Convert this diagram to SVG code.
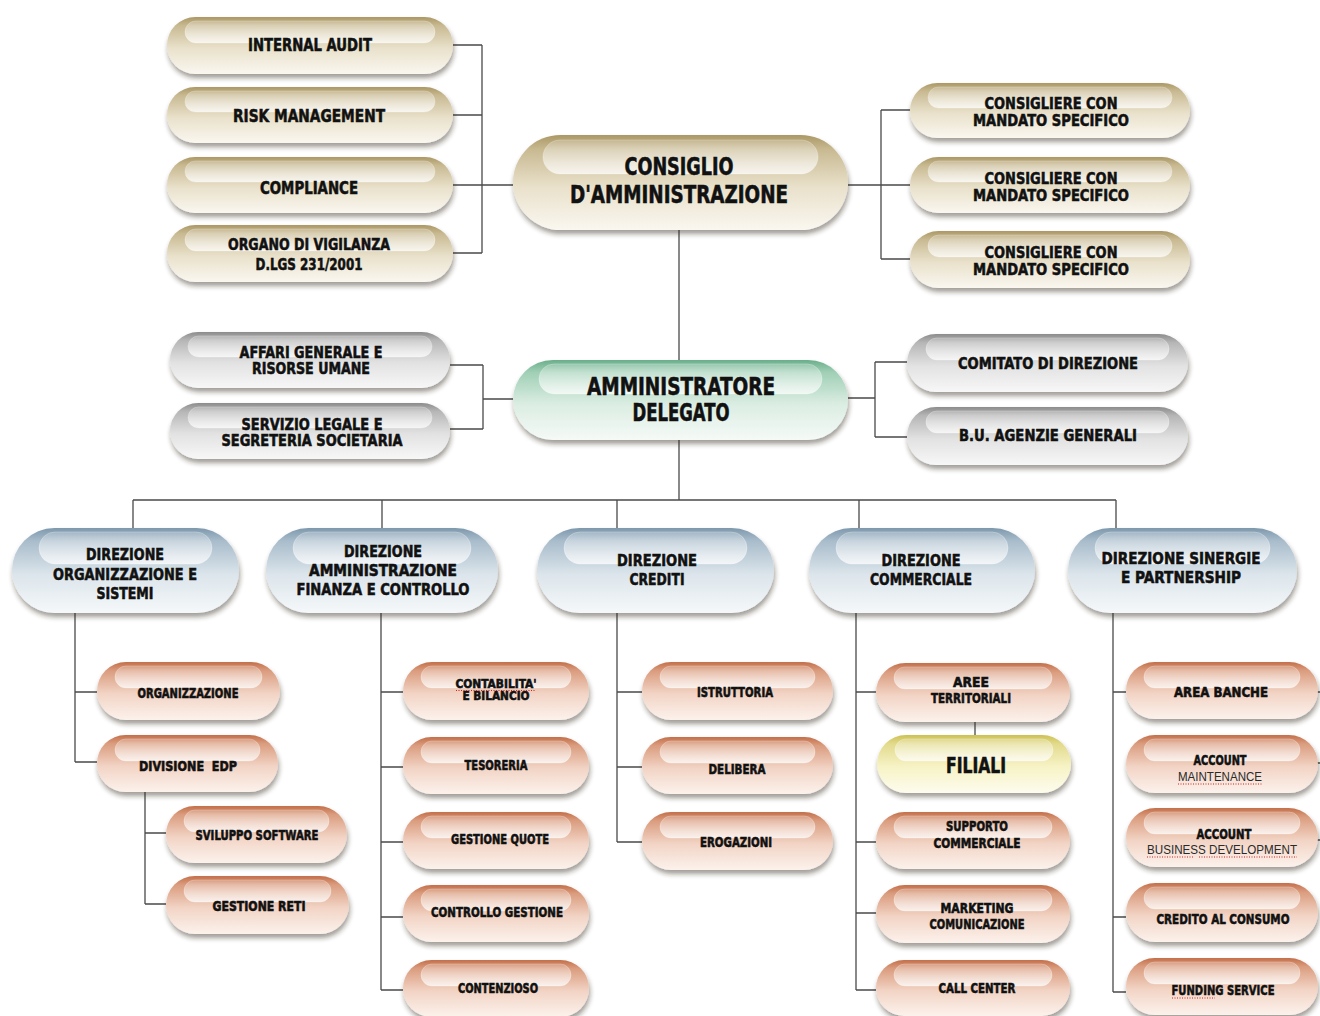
<svg xmlns="http://www.w3.org/2000/svg" width="1320" height="1016" viewBox="0 0 1320 1016">
<defs>
<style>
.t{font-family:"DejaVu Sans Condensed","Liberation Sans Narrow","Liberation Sans",sans-serif;font-weight:700;fill:#111111;stroke:#111111;stroke-width:0.55;text-anchor:middle}
.f18{font-size:18px}.f17{font-size:16.5px}.f16{font-size:16px}.f25{font-size:24px}.f14{font-size:13.5px}.f12{font-size:12px}.f21{font-size:21px}
.thin{font-family:"Liberation Sans","DejaVu Sans",sans-serif;font-weight:400;stroke:none;fill:#2a2a2a;font-size:13.5px}
.ln{stroke:#4a4a4a;stroke-width:1.3;fill:none}
.hl{fill:url(#gHl);stroke:#ffffff;stroke-opacity:0.45;stroke-width:0.6}
.sp{stroke:#d02020;stroke-width:1;stroke-dasharray:1 1.5;fill:none}
</style>
<filter id="sh" x="-10%" y="-20%" width="120%" height="150%">
<feDropShadow dx="1" dy="4" stdDeviation="2.5" flood-color="#2a2015" flood-opacity="0.45"/>
</filter>
<linearGradient id="gHl" x1="0" y1="0" x2="0" y2="1">
<stop offset="0" stop-color="#ffffff" stop-opacity="0.2"/>
<stop offset="1" stop-color="#ffffff" stop-opacity="0.75"/>
</linearGradient>
<linearGradient id="gBeige" x1="0" y1="0" x2="0" y2="1">
<stop offset="0" stop-color="#ab9865"/><stop offset="0.15" stop-color="#c8b991"/><stop offset="0.55" stop-color="#e9e1cb"/><stop offset="1" stop-color="#faf7f0"/>
</linearGradient>
<linearGradient id="gGray" x1="0" y1="0" x2="0" y2="1">
<stop offset="0" stop-color="#8c8c8c"/><stop offset="0.15" stop-color="#b6b6b6"/><stop offset="0.55" stop-color="#e2e2e2"/><stop offset="1" stop-color="#f7f7f7"/>
</linearGradient>
<linearGradient id="gGreen" x1="0" y1="0" x2="0" y2="1">
<stop offset="0" stop-color="#6aae8a"/><stop offset="0.15" stop-color="#9fcfb5"/><stop offset="0.55" stop-color="#dbede2"/><stop offset="1" stop-color="#f5faf7"/>
</linearGradient>
<linearGradient id="gBlue" x1="0" y1="0" x2="0" y2="1">
<stop offset="0" stop-color="#7d98ac"/><stop offset="0.15" stop-color="#a8bccb"/><stop offset="0.55" stop-color="#dce5eb"/><stop offset="1" stop-color="#f5f8fa"/>
</linearGradient>
<linearGradient id="gSal" x1="0" y1="0" x2="0" y2="1">
<stop offset="0" stop-color="#c46f4a"/><stop offset="0.15" stop-color="#da9c7e"/><stop offset="0.55" stop-color="#f2d4c5"/><stop offset="1" stop-color="#fcf2ec"/>
</linearGradient>
<linearGradient id="gYel" x1="0" y1="0" x2="0" y2="1">
<stop offset="0" stop-color="#cdc153"/><stop offset="0.15" stop-color="#e2da8c"/><stop offset="0.55" stop-color="#f7f3c6"/><stop offset="1" stop-color="#fdfcee"/>
</linearGradient>
</defs>
<rect width="1320" height="1016" fill="#ffffff"/>

<g id="connectors">
<path class="ln" d="M453 45H482 M453 115H482 M453 185H513 M453 253H482 M482 45V253"/>
<path class="ln" d="M848 185H910 M881 110V259 M881 110H910 M881 259H910"/>
<path class="ln" d="M679 230V360"/>
<path class="ln" d="M450 365H483 M450 429H483 M483 365V429 M483 399H513"/>
<path class="ln" d="M848 398H875 M875 362V437 M875 362H907 M875 437H907"/>
<path class="ln" d="M679 440V500 M133 500H1116 M133 500V528 M382 500V528 M617 500V528 M859 500V528 M1116 500V528"/>
<path class="ln" d="M75 613V762 M75 692H97 M75 762H97"/>
<path class="ln" d="M145 792V904 M145 833H166 M145 904H166"/>
<path class="ln" d="M381 613V990 M381 692H403 M381 767H403 M381 842H403 M381 917H403 M381 990H403"/>
<path class="ln" d="M617 613V842 M617 692H642 M617 767H642 M617 842H642"/>
<path class="ln" d="M856 613V990 M856 692H876 M856 842H876 M856 913H876 M856 990H876"/>
<path class="ln" d="M975 722V735"/>
<path class="ln" d="M1113 613V992 M1113 692H1126 M1113 917H1126 M1113 992H1126"/>
<path class="ln" d="M1316 692H1320 M1316 763H1320 M1316 840H1320"/>
</g>

<g id="n-internal-audit"><rect x="167" y="17" width="286" height="57" rx="28.5" fill="url(#gBeige)" filter="url(#sh)"/><rect class="hl" x="185" y="21" width="250" height="22" rx="11"/><text class="t f18" x="310" y="51" textLength="124" lengthAdjust="spacingAndGlyphs">INTERNAL AUDIT</text></g>
<g id="n-risk-management"><rect x="167" y="87" width="286" height="56" rx="28" fill="url(#gBeige)" filter="url(#sh)"/><rect class="hl" x="185" y="91" width="250" height="21" rx="10.5"/><text class="t f18" x="309" y="122" textLength="152" lengthAdjust="spacingAndGlyphs">RISK MANAGEMENT</text></g>
<g id="n-compliance"><rect x="167" y="157" width="286" height="56" rx="28" fill="url(#gBeige)" filter="url(#sh)"/><rect class="hl" x="185" y="161" width="250" height="21" rx="10.5"/><text class="t f18" x="309" y="194" textLength="98" lengthAdjust="spacingAndGlyphs">COMPLIANCE</text></g>
<g id="n-organo"><rect x="167" y="225" width="286" height="57" rx="28.5" fill="url(#gBeige)" filter="url(#sh)"/><rect class="hl" x="185" y="229" width="250" height="22" rx="11"/><text class="t f17" x="309" y="250" textLength="162" lengthAdjust="spacingAndGlyphs">ORGANO DI VIGILANZA</text><text class="t f17" x="309" y="270" textLength="107" lengthAdjust="spacingAndGlyphs">D.LGS 231/2001</text></g>

<g id="n-consiglio"><rect x="513" y="135" width="335" height="95" rx="47.5" fill="url(#gBeige)" filter="url(#sh)"/><rect class="hl" x="543" y="140" width="275" height="34" rx="17"/><text class="t f25" x="679" y="175" textLength="109" lengthAdjust="spacingAndGlyphs">CONSIGLIO</text><text class="t f25" x="679" y="203" textLength="218" lengthAdjust="spacingAndGlyphs">D'AMMINISTRAZIONE</text></g>

<g id="n-consigliere-1"><rect x="910" y="83" width="280" height="55" rx="27.5" fill="url(#gBeige)" filter="url(#sh)"/><rect class="hl" x="928" y="87" width="244" height="21" rx="10.5"/><text class="t f17" x="1051" y="109" textLength="133" lengthAdjust="spacingAndGlyphs">CONSIGLIERE CON</text><text class="t f17" x="1051" y="126" textLength="156" lengthAdjust="spacingAndGlyphs">MANDATO SPECIFICO</text></g>
<g id="n-consigliere-2"><rect x="910" y="157" width="280" height="56" rx="28" fill="url(#gBeige)" filter="url(#sh)"/><rect class="hl" x="928" y="161" width="244" height="21" rx="10.5"/><text class="t f17" x="1051" y="184" textLength="133" lengthAdjust="spacingAndGlyphs">CONSIGLIERE CON</text><text class="t f17" x="1051" y="201" textLength="156" lengthAdjust="spacingAndGlyphs">MANDATO SPECIFICO</text></g>
<g id="n-consigliere-3"><rect x="910" y="231" width="280" height="57" rx="28.5" fill="url(#gBeige)" filter="url(#sh)"/><rect class="hl" x="928" y="235" width="244" height="22" rx="11"/><text class="t f17" x="1051" y="258" textLength="133" lengthAdjust="spacingAndGlyphs">CONSIGLIERE CON</text><text class="t f17" x="1051" y="275" textLength="156" lengthAdjust="spacingAndGlyphs">MANDATO SPECIFICO</text></g>

<g id="n-amministratore"><rect x="513" y="360" width="335" height="80" rx="40" fill="url(#gGreen)" filter="url(#sh)"/><rect class="hl" x="539" y="364" width="283" height="30" rx="15"/><text class="t f25" x="681" y="395" textLength="188" lengthAdjust="spacingAndGlyphs">AMMINISTRATORE</text><text class="t f25" x="681" y="421" textLength="97" lengthAdjust="spacingAndGlyphs">DELEGATO</text></g>

<g id="n-affari"><rect x="170" y="332" width="280" height="56" rx="28" fill="url(#gGray)" filter="url(#sh)"/><rect class="hl" x="188" y="336" width="244" height="21" rx="10.5"/><text class="t f16" x="311" y="358" textLength="143" lengthAdjust="spacingAndGlyphs">AFFARI GENERALE E</text><text class="t f16" x="311" y="374" textLength="118" lengthAdjust="spacingAndGlyphs">RISORSE UMANE</text></g>
<g id="n-servizio-legale"><rect x="170" y="403" width="280" height="56" rx="28" fill="url(#gGray)" filter="url(#sh)"/><rect class="hl" x="188" y="407" width="244" height="21" rx="10.5"/><text class="t f16" x="312" y="430" textLength="141" lengthAdjust="spacingAndGlyphs">SERVIZIO LEGALE E</text><text class="t f16" x="312" y="446" textLength="181" lengthAdjust="spacingAndGlyphs">SEGRETERIA SOCIETARIA</text></g>
<g id="n-comitato"><rect x="907" y="334" width="281" height="58" rx="29" fill="url(#gGray)" filter="url(#sh)"/><rect class="hl" x="926" y="338" width="243" height="22" rx="11"/><text class="t f17" x="1048" y="369" textLength="180" lengthAdjust="spacingAndGlyphs">COMITATO DI DIREZIONE</text></g>
<g id="n-bu-agenzie"><rect x="907" y="407" width="281" height="58" rx="29" fill="url(#gGray)" filter="url(#sh)"/><rect class="hl" x="926" y="411" width="243" height="22" rx="11"/><text class="t f17" x="1048" y="441" textLength="178" lengthAdjust="spacingAndGlyphs">B.U. AGENZIE GENERALI</text></g>

<g id="n-dir-org"><rect x="12" y="528" width="227" height="85" rx="42.5" fill="url(#gBlue)" filter="url(#sh)"/><rect class="hl" x="39" y="532" width="173" height="32" rx="16"/><text class="t f17" x="125" y="560" textLength="78" lengthAdjust="spacingAndGlyphs">DIREZIONE</text><text class="t f17" x="125" y="580" textLength="144" lengthAdjust="spacingAndGlyphs">ORGANIZZAZIONE E</text><text class="t f17" x="125" y="599" textLength="57" lengthAdjust="spacingAndGlyphs">SISTEMI</text></g>
<g id="n-dir-amm"><rect x="266" y="528" width="232" height="85" rx="42.5" fill="url(#gBlue)" filter="url(#sh)"/><rect class="hl" x="293" y="532" width="178" height="32" rx="16"/><text class="t f17" x="383" y="557" textLength="78" lengthAdjust="spacingAndGlyphs">DIREZIONE</text><text class="t f17" x="383" y="576" textLength="148" lengthAdjust="spacingAndGlyphs">AMMINISTRAZIONE</text><text class="t f17" x="383" y="595" textLength="173" lengthAdjust="spacingAndGlyphs">FINANZA E CONTROLLO</text></g>
<g id="n-dir-crediti"><rect x="537" y="528" width="237" height="85" rx="42.5" fill="url(#gBlue)" filter="url(#sh)"/><rect class="hl" x="564" y="532" width="183" height="32" rx="16"/><text class="t f17" x="657" y="566" textLength="80" lengthAdjust="spacingAndGlyphs">DIREZIONE</text><text class="t f17" x="657" y="585" textLength="55" lengthAdjust="spacingAndGlyphs">CREDITI</text></g>
<g id="n-dir-commerciale"><rect x="809" y="528" width="226" height="85" rx="42.5" fill="url(#gBlue)" filter="url(#sh)"/><rect class="hl" x="836" y="532" width="172" height="32" rx="16"/><text class="t f17" x="921" y="566" textLength="79" lengthAdjust="spacingAndGlyphs">DIREZIONE</text><text class="t f17" x="921" y="585" textLength="102" lengthAdjust="spacingAndGlyphs">COMMERCIALE</text></g>
<g id="n-dir-sinergie"><rect x="1068" y="528" width="229" height="85" rx="42.5" fill="url(#gBlue)" filter="url(#sh)"/><rect class="hl" x="1095" y="532" width="175" height="32" rx="16"/><text class="t f17" x="1181" y="564" textLength="159" lengthAdjust="spacingAndGlyphs">DIREZIONE SINERGIE</text><text class="t f17" x="1181" y="583" textLength="120" lengthAdjust="spacingAndGlyphs">E PARTNERSHIP</text></g>

<g id="n-organizzazione"><rect x="97" y="662" width="183" height="58" rx="29" fill="url(#gSal)" filter="url(#sh)"/><rect class="hl" x="115" y="666" width="147" height="22" rx="11"/><text class="t f14" x="188" y="698" textLength="101" lengthAdjust="spacingAndGlyphs">ORGANIZZAZIONE</text></g>
<g id="n-divisione-edp"><rect x="97" y="735" width="181" height="57" rx="28.5" fill="url(#gSal)" filter="url(#sh)"/><rect class="hl" x="115" y="739" width="145" height="22" rx="11"/><text class="t f14" x="188" y="771" textLength="98" lengthAdjust="spacingAndGlyphs" xml:space="preserve">DIVISIONE  EDP</text></g>
<g id="n-sviluppo-software"><rect x="166" y="806" width="181" height="57" rx="28.5" fill="url(#gSal)" filter="url(#sh)"/><rect class="hl" x="184" y="810" width="145" height="22" rx="11"/><text class="t f14" x="257" y="840" textLength="123" lengthAdjust="spacingAndGlyphs">SVILUPPO SOFTWARE</text></g>
<g id="n-gestione-reti"><rect x="166" y="876" width="183" height="58" rx="29" fill="url(#gSal)" filter="url(#sh)"/><rect class="hl" x="184" y="880" width="147" height="22" rx="11"/><text class="t f14" x="259" y="911" textLength="93" lengthAdjust="spacingAndGlyphs">GESTIONE RETI</text></g>

<g id="n-contabilita"><rect x="403" y="662" width="186" height="58" rx="29" fill="url(#gSal)" filter="url(#sh)"/><rect class="hl" x="421" y="666" width="150" height="22" rx="11"/><text class="t f12" x="496" y="688" textLength="81" lengthAdjust="spacingAndGlyphs">CONTABILITA'</text><text class="t f12" x="496" y="700" textLength="67" lengthAdjust="spacingAndGlyphs">E BILANCIO</text><path class="sp" d="M456 690.5H536"/></g>
<g id="n-tesoreria"><rect x="403" y="737" width="186" height="57" rx="28.5" fill="url(#gSal)" filter="url(#sh)"/><rect class="hl" x="421" y="741" width="150" height="22" rx="11"/><text class="t f14" x="496" y="770" textLength="63" lengthAdjust="spacingAndGlyphs">TESORERIA</text></g>
<g id="n-gestione-quote"><rect x="403" y="812" width="186" height="57" rx="28.5" fill="url(#gSal)" filter="url(#sh)"/><rect class="hl" x="421" y="816" width="150" height="22" rx="11"/><text class="t f14" x="500" y="844" textLength="98" lengthAdjust="spacingAndGlyphs">GESTIONE QUOTE</text></g>
<g id="n-controllo-gestione"><rect x="403" y="885" width="186" height="57" rx="28.5" fill="url(#gSal)" filter="url(#sh)"/><rect class="hl" x="421" y="889" width="150" height="22" rx="11"/><text class="t f14" x="497" y="917" textLength="132" lengthAdjust="spacingAndGlyphs">CONTROLLO GESTIONE</text></g>
<g id="n-contenzioso"><rect x="403" y="960" width="186" height="57" rx="28.5" fill="url(#gSal)" filter="url(#sh)"/><rect class="hl" x="421" y="964" width="150" height="22" rx="11"/><text class="t f14" x="498" y="993" textLength="80" lengthAdjust="spacingAndGlyphs">CONTENZIOSO</text></g>

<g id="n-istruttoria"><rect x="642" y="662" width="191" height="58" rx="29" fill="url(#gSal)" filter="url(#sh)"/><rect class="hl" x="660" y="666" width="155" height="22" rx="11"/><text class="t f14" x="735" y="697" textLength="76" lengthAdjust="spacingAndGlyphs">ISTRUTTORIA</text></g>
<g id="n-delibera"><rect x="642" y="737" width="191" height="57" rx="28.5" fill="url(#gSal)" filter="url(#sh)"/><rect class="hl" x="660" y="741" width="155" height="22" rx="11"/><text class="t f14" x="737" y="774" textLength="57" lengthAdjust="spacingAndGlyphs">DELIBERA</text></g>
<g id="n-erogazioni"><rect x="642" y="812" width="191" height="58" rx="29" fill="url(#gSal)" filter="url(#sh)"/><rect class="hl" x="660" y="816" width="155" height="22" rx="11"/><text class="t f14" x="736" y="847" textLength="72" lengthAdjust="spacingAndGlyphs">EROGAZIONI</text></g>

<g id="n-aree-territoriali"><rect x="876" y="663" width="194" height="59" rx="29.5" fill="url(#gSal)" filter="url(#sh)"/><rect class="hl" x="894" y="667" width="158" height="22" rx="11"/><text class="t f14" x="971" y="687" textLength="36" lengthAdjust="spacingAndGlyphs">AREE</text><text class="t f14" x="971" y="703" textLength="80" lengthAdjust="spacingAndGlyphs">TERRITORIALI</text></g>
<g id="n-filiali"><rect x="877" y="735" width="194" height="58" rx="29" fill="url(#gYel)" filter="url(#sh)"/><rect class="hl" x="895" y="739" width="158" height="22" rx="11"/><text class="t f21" x="976" y="773" textLength="60" lengthAdjust="spacingAndGlyphs">FILIALI</text></g>
<g id="n-supporto-commerciale"><rect x="876" y="812" width="194" height="57" rx="28.5" fill="url(#gSal)" filter="url(#sh)"/><rect class="hl" x="894" y="816" width="158" height="22" rx="11"/><text class="t f14" x="977" y="831" textLength="62" lengthAdjust="spacingAndGlyphs">SUPPORTO</text><text class="t f14" x="977" y="848" textLength="87" lengthAdjust="spacingAndGlyphs">COMMERCIALE</text></g>
<g id="n-marketing"><rect x="876" y="885" width="194" height="58" rx="29" fill="url(#gSal)" filter="url(#sh)"/><rect class="hl" x="894" y="889" width="158" height="22" rx="11"/><text class="t f14" x="977" y="913" textLength="73" lengthAdjust="spacingAndGlyphs">MARKETING</text><text class="t f14" x="977" y="929" textLength="95" lengthAdjust="spacingAndGlyphs">COMUNICAZIONE</text></g>
<g id="n-call-center"><rect x="876" y="960" width="194" height="56" rx="28" fill="url(#gSal)" filter="url(#sh)"/><rect class="hl" x="894" y="964" width="158" height="22" rx="11"/><text class="t f14" x="977" y="993" textLength="77" lengthAdjust="spacingAndGlyphs">CALL CENTER</text></g>

<g id="n-area-banche"><rect x="1126" y="662" width="192" height="57" rx="28.5" fill="url(#gSal)" filter="url(#sh)"/><rect class="hl" x="1144" y="666" width="156" height="22" rx="11"/><text class="t f14" x="1221" y="697" textLength="94" lengthAdjust="spacingAndGlyphs">AREA BANCHE</text></g>
<g id="n-account-maintenance"><rect x="1126" y="735" width="192" height="58" rx="29" fill="url(#gSal)" filter="url(#sh)"/><rect class="hl" x="1144" y="739" width="156" height="22" rx="11"/><text class="t f14" x="1220" y="765" textLength="53" lengthAdjust="spacingAndGlyphs">ACCOUNT</text><text class="thin" x="1220" y="781" text-anchor="middle" textLength="84" lengthAdjust="spacingAndGlyphs">MAINTENANCE</text><path class="sp" d="M1178 784H1262"/></g>
<g id="n-account-business"><rect x="1126" y="808" width="192" height="59" rx="29.5" fill="url(#gSal)" filter="url(#sh)"/><rect class="hl" x="1144" y="812" width="156" height="22" rx="11"/><text class="t f14" x="1224" y="839" textLength="55" lengthAdjust="spacingAndGlyphs">ACCOUNT</text><text class="thin" x="1222" y="854" text-anchor="middle" textLength="150" lengthAdjust="spacingAndGlyphs">BUSINESS DEVELOPMENT</text><path class="sp" d="M1147 857H1193 M1199 857H1297"/></g>
<g id="n-credito-consumo"><rect x="1126" y="883" width="192" height="59" rx="29.5" fill="url(#gSal)" filter="url(#sh)"/><rect class="hl" x="1144" y="887" width="156" height="22" rx="11"/><text class="t f14" x="1223" y="924" textLength="133" lengthAdjust="spacingAndGlyphs">CREDITO AL CONSUMO</text></g>
<g id="n-funding-service"><rect x="1126" y="958" width="192" height="57" rx="28.5" fill="url(#gSal)" filter="url(#sh)"/><rect class="hl" x="1144" y="962" width="156" height="22" rx="11"/><text class="t f14" x="1223" y="995" textLength="103" lengthAdjust="spacingAndGlyphs">FUNDING SERVICE</text><path class="sp" d="M1172 998H1215"/></g>
</svg>
